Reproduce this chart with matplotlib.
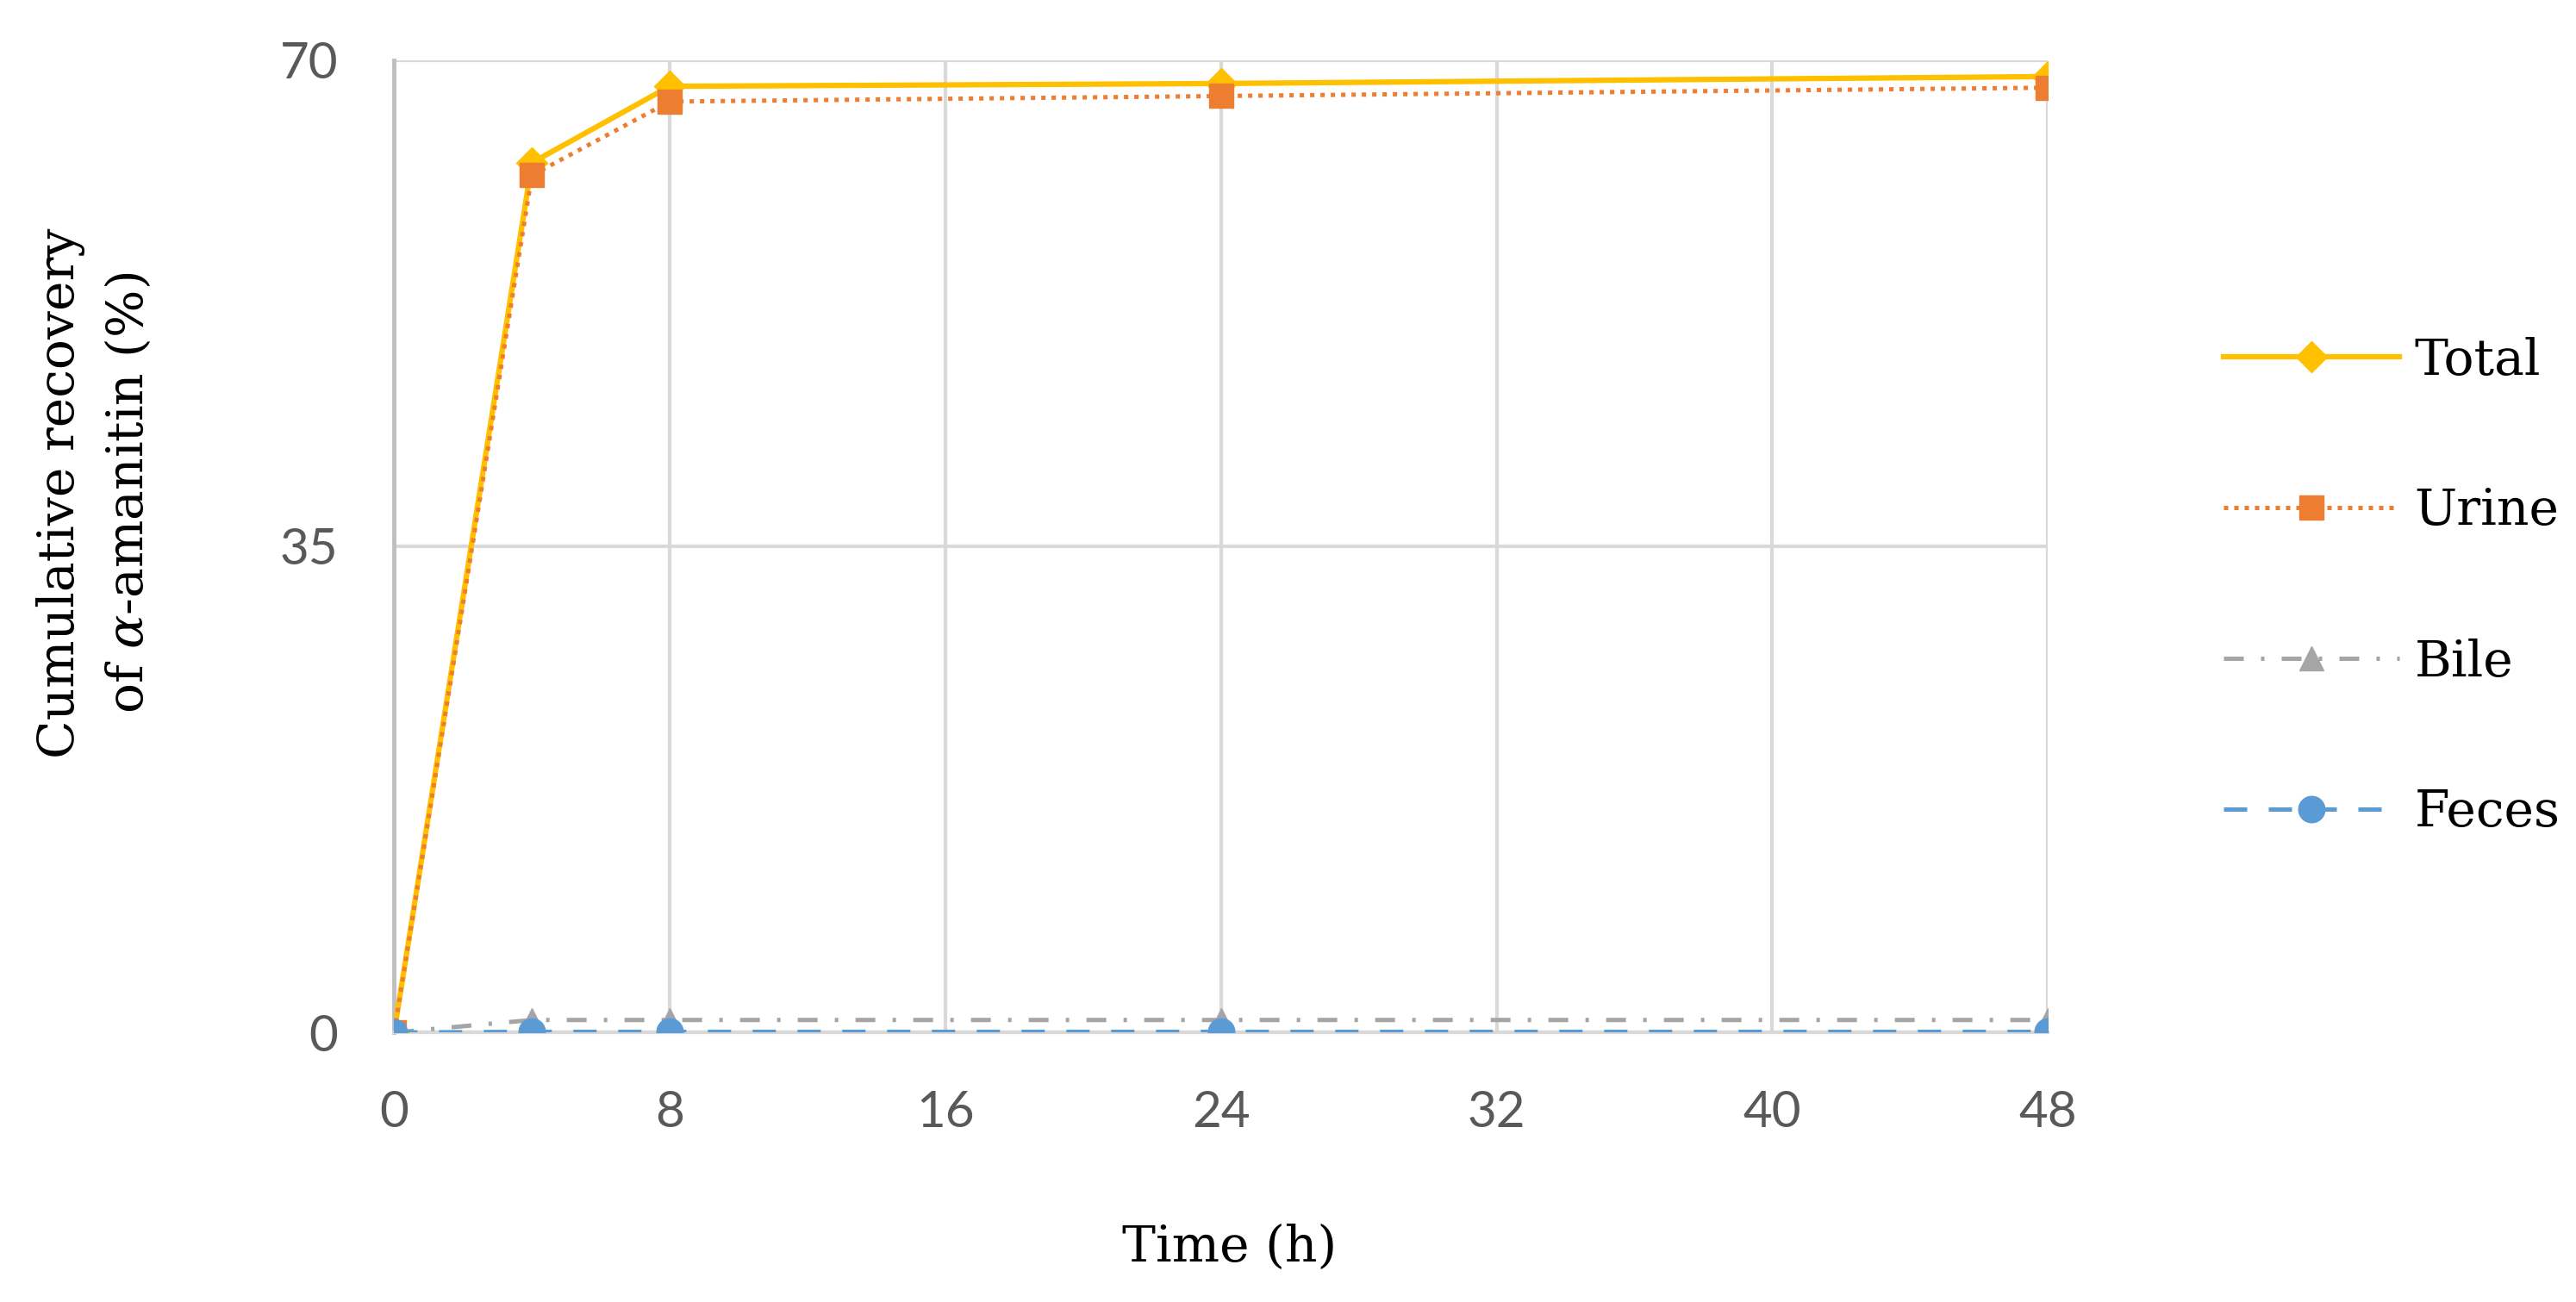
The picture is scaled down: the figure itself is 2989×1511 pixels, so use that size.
import numpy as np
import matplotlib.pyplot as plt

# Tempo (h) e recuperação acumulada (%)
tempo = [0, 4, 8, 24, 48]
total = [0.0, 62.6, 68.1, 68.3, 68.8]
urina = [0.0, 61.7, 67.0, 67.4, 68.0]
bile = [0.0, 0.9, 0.9, 0.9, 0.9]
fezes = [0.0, 0.05, 0.05, 0.05, 0.05]

xticks = [0, 8, 16, 24, 32, 40, 48]
yticks = [0, 35, 70]

grid_cor = '#D9D9D9'
serif = 'DejaVu Serif'
plt.rcParams['mathtext.fontset'] = 'dejavuserif'

fig = plt.figure(figsize=(29.89, 15.11), dpi=100)
ax = fig.add_axes([0.153, 0.207, 0.642, 0.747])

ax.plot(tempo, total, color='#FFC000', linestyle='-', linewidth=4.5, marker='D',
        markersize=18, label='Total', zorder=3)
ax.plot(tempo, urina, color='#ED7D31', linestyle=(0, (1, 1.4)), linewidth=3.6, marker='s',
        markersize=20, label='Urine', zorder=4)
ax.plot(tempo, bile, color='#A5A5A5', linestyle=(0, (4.6, 4, 0.8, 4)), linewidth=3.6,
        marker='^', markersize=20, label='Bile', zorder=4)
ax.plot(tempo, fezes, color='#5B9BD5', linestyle=(0, (5.4, 5)), linewidth=3.6, marker='o',
        markersize=22, label='Feces', zorder=5)

ax.set_xlim(0, 48)
ax.set_ylim(0, 70)
ax.set_xticks(xticks)
ax.set_yticks(yticks)
ax.grid(True, color=grid_cor, linewidth=3)
ax.set_axisbelow(True)
for lado in ['top', 'right']:
    ax.spines[lado].set_visible(False)
ax.spines['left'].set_color('#BFBFBF')
ax.spines['left'].set_linewidth(3.5)
ax.spines['bottom'].set_color(grid_cor)
ax.spines['bottom'].set_linewidth(3)
ax.tick_params(length=0, labelsize=42, labelcolor='#595959')
ax.tick_params(axis='y', pad=47)
ax.tick_params(axis='x', pad=48)
for rotulo in ax.get_xticklabels() + ax.get_yticklabels():
    rotulo.set_fontfamily('Lato')

# títulos dos eixos
fig.text(1427 / 2989, 1 - 1448 / 1511, 'Time (h)', fontsize=42, family=serif,
         ha='center', va='center')
fig.text(110 / 2989, 1 - 572 / 1511, 'Cumulative recovery\nof $\\alpha$-amanitin (%)',
         fontsize=42, family=serif, rotation=90, ha='center', va='center',
         multialignment='center', linespacing=1.5)

leg = ax.legend(loc='center left', bbox_to_anchor=(2580 / 2989, 1 - 681 / 1511),
                bbox_transform=fig.transFigure, frameon=False, borderpad=0,
                borderaxespad=0, prop={'family': serif, 'size': 42}, handlelength=3.5,
                labelspacing=2.04, handletextpad=0.3)

fig.savefig('out.png', dpi=100)
